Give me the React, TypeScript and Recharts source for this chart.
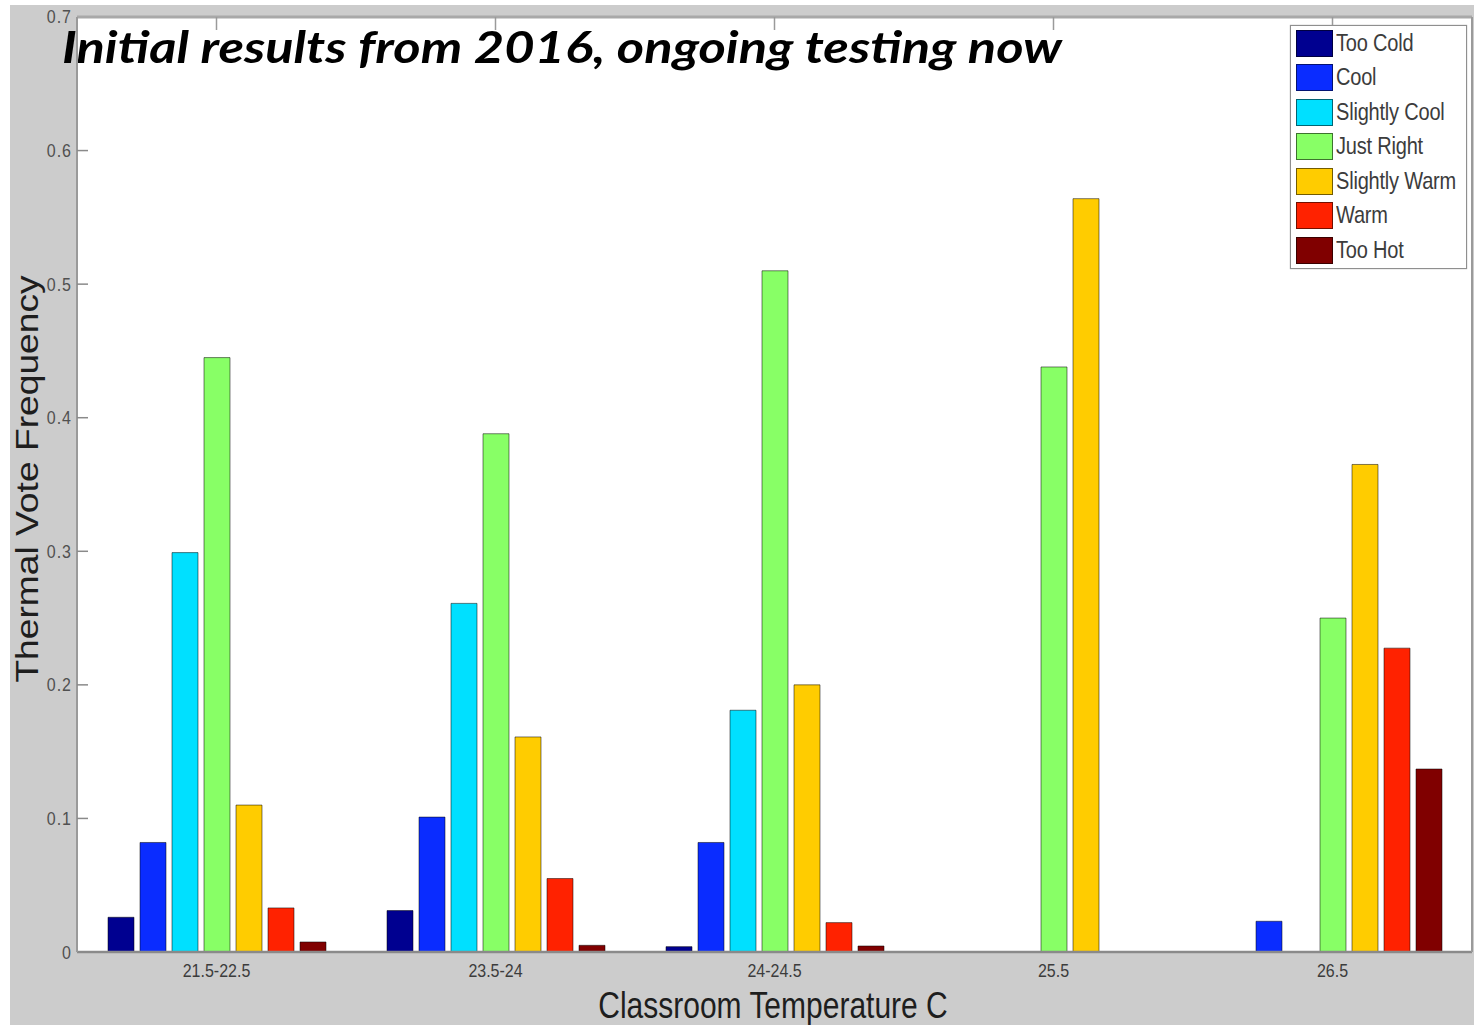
import React from 'react';
import { BarChart, Bar, XAxis, YAxis, Legend } from 'recharts';

const categories = ['21.5-22.5', '23.5-24', '24-24.5', '25.5', '26.5'];
const tooCold = [0.026, 0.031, 0.004, 0, 0];
const cool = [0.082, 0.101, 0.082, 0, 0.023];
const slightlyCool = [0.299, 0.261, 0.181, 0, 0];
const justRight = [0.445, 0.388, 0.51, 0.438, 0.25];
const slightlyWarm = [0.11, 0.161, 0.2, 0.564, 0.365];
const warm = [0.033, 0.055, 0.022, 0, 0.2275];
const tooHot = [0.0075, 0.005, 0.0045, 0, 0.137];

const yTicks = [0, 0.1, 0.2, 0.3, 0.4, 0.5, 0.6, 0.7];
const yTickLabels = ['0', '0.1', '0.2', '0.3', '0.4', '0.5', '0.6', '0.7'];

const seriesKeys = ['tooCold', 'cool', 'slightlyCool', 'justRight', 'slightlyWarm', 'warm', 'tooHot'];
const seriesNames = ['Too Cold', 'Cool', 'Slightly Cool', 'Just Right', 'Slightly Warm', 'Warm', 'Too Hot'];
const seriesColors = ['#000090', '#0a2cff', '#00e0ff', '#88ff66', '#ffcc00', '#ff2200', '#800000'];
const seriesValues = [tooCold, cool, slightlyCool, justRight, slightlyWarm, warm, tooHot];

const data = categories.map((cat, i) => {
  const row: Record<string, any> = { cat };
  seriesKeys.forEach((k, j) => {
    row[k] = seriesValues[j][i];
  });
  return row;
});

const W = 1464;
const H = 1020;
const PLOT_LEFT = 67;
const PLOT_TOP = 12;
const PLOT_RIGHT = 1462;
const PLOT_BOTTOM = 947;

const LeftTick = (props: any) => {
  const { x, index } = props;
  const { y } = props;
  const isTop = index === yTicks.length - 1;
  const ty = isTop ? y - 1 : y;
  return (
    <g>
      <text
        x={x}
        y={ty}
        textAnchor="end"
        dominantBaseline="central"
        fontFamily="Arial, 'Liberation Sans', sans-serif"
        fontSize={16}
        letterSpacing={1}
        fill="#505050"
        transform={`translate(0 ${ty}) scale(1 1.2) translate(0 ${-ty})`}
      >
        {yTickLabels[index] ?? props.payload.value}
      </text>
      {index > 0 && !isTop && (
        <line x1={PLOT_LEFT} x2={PLOT_LEFT + 11} y1={y} y2={y} stroke="#8a8a8a" strokeWidth={1.5} />
      )}
    </g>
  );
};

const RightTick = (props: any) => {
  const { y, index } = props;
  if (index === 0 || index === yTicks.length - 1) return <g />;
  return <line x1={PLOT_RIGHT - 11} x2={PLOT_RIGHT} y1={y} y2={y} stroke="#8a8a8a" strokeWidth={1.5} />;
};

const TopTick = (props: any) => {
  const { x } = props;
  return <line x1={x} x2={x} y1={PLOT_TOP} y2={PLOT_TOP + 13} stroke="#9a9a9a" strokeWidth={1.5} />;
};

const BottomTick = (props: any) => {
  const { x, payload } = props;
  const by = PLOT_BOTTOM + 25;
  return (
    <text
      x={x}
      y={by}
      textAnchor="middle"
      fontFamily="Arial, 'Liberation Sans', sans-serif"
      fontSize={16}
      fill="#3c3c3c"
      transform={`translate(0 ${by}) scale(1 1.2) translate(0 ${-by})`}
    >
      {payload.value}
    </text>
  );
};

const LegendContent = (props: any) => {
  const raw = props.payload || [];
  const payload = [...raw].sort(
    (a: any, b: any) => seriesNames.indexOf(a.value) - seriesNames.indexOf(b.value)
  );
  return (
    <div
      style={{
        width: 177,
        height: 244,
        boxSizing: 'border-box',
        border: '1.5px solid #8f8f8f',
        background: '#ffffff',
        padding: '0 0 0 5px',
        boxShadow: '0 0 1px #999',
      }}
    >
      {payload.map((p: any, i: number) => (
        <div key={i} style={{ display: 'flex', alignItems: 'center', height: 34.5 }}>
          <div
            style={{
              width: 37,
              height: 27,
              background: p.color,
              border: '1px solid rgba(0,0,0,0.55)',
              boxSizing: 'border-box',
              flex: 'none',
            }}
          />
          <span
            style={{
              marginLeft: 3,
              fontFamily: "Arial, 'Liberation Sans', sans-serif",
              fontSize: 20,
              color: '#3c3c3c',
              whiteSpace: 'nowrap',
              display: 'inline-block',
              transform: 'scaleY(1.22)',
              transformOrigin: 'left center',
              letterSpacing: -0.2,
            }}
          >
            {p.value}
          </span>
        </div>
      ))}
    </div>
  );
};

export default function App() {
  return (
    <div style={{ position: 'absolute', left: 0, top: 0, width: 1474, height: 1025, background: '#ffffff' }}>
      <div style={{ position: 'absolute', left: 10, top: 5, width: W, height: H, background: '#cccccc' }}>
        <BarChart
          width={W}
          height={H}
          data={data}
          margin={{ top: 0, right: 0, bottom: 0, left: 0 }}
          barGap={6}
          style={{ background: 'transparent' }}
        >
          <rect x={PLOT_LEFT} y={PLOT_TOP} width={PLOT_RIGHT - PLOT_LEFT} height={PLOT_BOTTOM - PLOT_TOP} fill="#ffffff" />
          <XAxis
            dataKey="cat"
            xAxisId="bottom"
            orientation="bottom"
            height={H - PLOT_BOTTOM}
            tickSize={0}
            tickMargin={0}
            tickLine={false}
            interval={0}
            axisLine={{ stroke: '#8a8a8a', strokeWidth: 2.5 }}
            tick={<BottomTick />}
          />
          <XAxis
            dataKey="cat"
            xAxisId="top"
            orientation="top"
            height={PLOT_TOP}
            tickSize={0}
            tickMargin={0}
            tickLine={false}
            interval={0}
            axisLine={{ stroke: '#a8a8a8', strokeWidth: 3 }}
            tick={<TopTick />}
          />
          <YAxis
            yAxisId="left"
            orientation="left"
            width={PLOT_LEFT}
            type="number"
            domain={[0, 0.7]}
            ticks={yTicks}
            interval={0}
            tickSize={0}
            tickMargin={5}
            tickLine={false}
            axisLine={{ stroke: '#9a9a9a', strokeWidth: 2 }}
            tick={<LeftTick />}
          />
          <YAxis
            yAxisId="right"
            orientation="right"
            width={W - PLOT_RIGHT}
            type="number"
            domain={[0, 0.7]}
            ticks={yTicks}
            interval={0}
            tickSize={0}
            tickMargin={0}
            tickLine={false}
            axisLine={{ stroke: '#9a9a9a', strokeWidth: 2 }}
            tick={<RightTick />}
          />
          {seriesKeys.map((k, j) => (
            <Bar
              key={k}
              dataKey={k}
              name={seriesNames[j]}
              xAxisId="bottom"
              yAxisId="left"
              fill={seriesColors[j]}
              stroke="rgba(0,0,0,0.5)"
              strokeWidth={1}
              barSize={26}
              isAnimationActive={false}
            />
          ))}
          <Legend
            layout="vertical"
            align="center"
            verticalAlign="middle"
            content={<LegendContent />}
            wrapperStyle={{ position: 'absolute', left: 1280, top: 20, width: 177, height: 244 }}
          />
          <text
            transform="translate(17 474) rotate(-90) scale(1.2 1)"
            textAnchor="middle"
            dominantBaseline="central"
            fontFamily="Arial, 'Liberation Sans', sans-serif"
            fontSize={31}
            fill="#1e1e1e"
          >
            Thermal Vote Frequency
          </text>
          <text
            transform="translate(763 1013) scale(1 1.22)"
            textAnchor="middle"
            fontFamily="Arial, 'Liberation Sans', sans-serif"
            fontSize={30}
            fill="#1e1e1e"
          >
            Classroom Temperature C
          </text>
          <text
            x={52}
            y={58}
            fontFamily="Lato, 'Open Sans', sans-serif"
            fontWeight="bold"
            fontStyle="italic"
            fontSize={44}
            fill="#000000"
            textLength={1000}
            lengthAdjust="spacingAndGlyphs"
          >
            Initial results from 2016, ongoing testing now
          </text>
        </BarChart>
      </div>
    </div>
  );
}
